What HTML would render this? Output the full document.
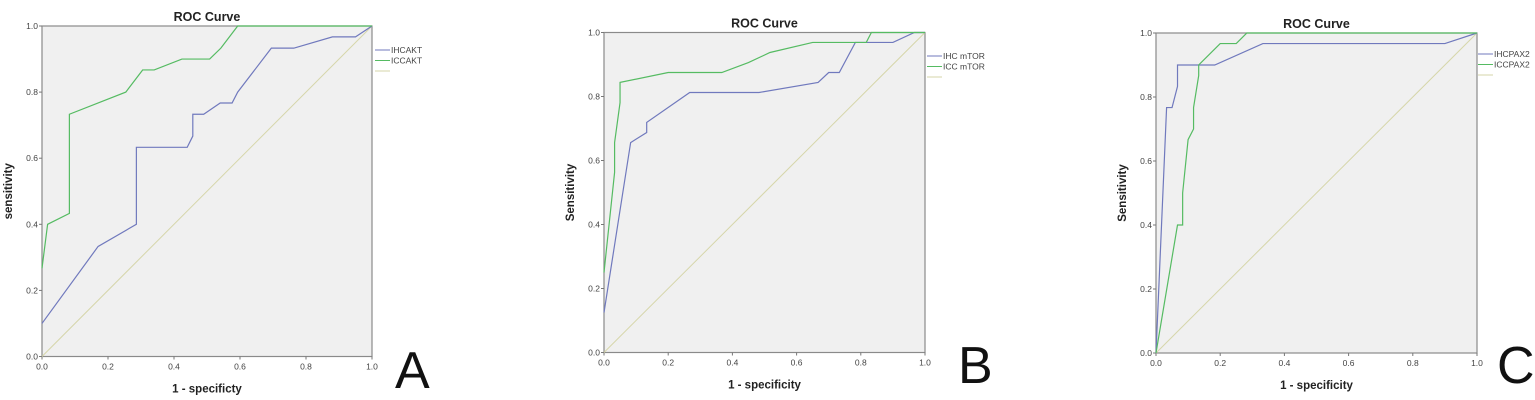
<!DOCTYPE html>
<html><head><meta charset="utf-8"><style>
body{margin:0;background:#fff;width:1535px;height:400px;overflow:hidden;font-family:"Liberation Sans",sans-serif}
svg{position:absolute;left:0;top:0}
</style></head><body>
<svg id="s" width="1535" height="400" xmlns="http://www.w3.org/2000/svg"></svg>
<script>
const ticks=[0,0.2,0.4,0.6,0.8,1.0];
const tickLabels=["0.0","0.2","0.4","0.6","0.8","1.0"];
const aBlueX=[0,0.17,0.286,0.286,0.44,0.457,0.457,0.49,0.54,0.576,0.593,0.695,0.763,0.88,0.95,1];
const aBlueY=[0.1,0.333,0.4,0.633,0.633,0.667,0.733,0.733,0.767,0.767,0.8,0.933,0.933,0.967,0.967,1];
const aGreenX=[0,0.017,0.083,0.083,0.254,0.305,0.34,0.424,0.508,0.542,0.593,1];
const aGreenY=[0.267,0.4,0.433,0.733,0.8,0.867,0.867,0.9,0.9,0.933,1,1];
const bBlueX=[0,0.083,0.133,0.133,0.267,0.483,0.667,0.7,0.733,0.783,0.9,0.967,1];
const bBlueY=[0.125,0.656,0.6875,0.719,0.8125,0.8125,0.844,0.875,0.875,0.969,0.969,1,1];
const bGreenX=[0,0.033,0.033,0.05,0.05,0.2,0.367,0.45,0.517,0.65,0.817,0.833,1];
const bGreenY=[0.25,0.563,0.656,0.781,0.844,0.875,0.875,0.906,0.9375,0.969,0.969,1,1];
const cBlueX=[0,0.033,0.05,0.067,0.067,0.183,0.333,0.9,1];
const cBlueY=[0,0.767,0.767,0.833,0.9,0.9,0.967,0.967,1];
const cGreenX=[0,0.067,0.083,0.083,0.1,0.117,0.117,0.133,0.133,0.2,0.25,0.283,1];
const cGreenY=[0,0.4,0.4,0.5,0.667,0.7,0.767,0.867,0.9,0.967,0.967,1,1];
const panels=[
 {id:"a",x0:42,x1:372,y0:356.5,y1:26,ylab:"sensitivity",xlab:"1 - specificty",leg:["IHCAKT","ICCAKT"],lx:375,ly:50,letter:"A",lt:[395,388],bx:aBlueX,by:aBlueY,gx:aGreenX,gy:aGreenY},
 {id:"b",x0:604,x1:925,y0:352.5,y1:32.5,ylab:"Sensitivity",xlab:"1 - specificity",leg:["IHC mTOR","ICC mTOR"],lx:927,ly:56,letter:"B",lt:[958,383],bx:bBlueX,by:bBlueY,gx:bGreenX,gy:bGreenY},
 {id:"c",x0:1156,x1:1477,y0:353,y1:33,ylab:"Sensitivity",xlab:"1 - specificity",leg:["IHCPAX2","ICCPAX2"],lx:1478,ly:54,letter:"C",lt:[1497,383],bx:cBlueX,by:cBlueY,gx:cGreenX,gy:cGreenY}];
const s=document.getElementById('s');const NS="http://www.w3.org/2000/svg";
function mk(t,a,txt){const e=document.createElementNS(NS,t);for(const k in a)e.setAttribute(k,a[k]);if(txt!==undefined)e.textContent=txt;s.appendChild(e);return e;}
panels.forEach(p=>{
 const X=v=>p.x0+v*(p.x1-p.x0),Y=v=>p.y0+v*(p.y1-p.y0);
 let e=mk('rect',{x:p.x0,y:p.y1,width:p.x1-p.x0,height:p.y0-p.y1,fill:'#f0f0f0',stroke:'#8a8a8a','stroke-width':1.2});
 
 
 e=mk('text',{x:(p.x0+p.x1)/2,y:p.y1-5,'text-anchor':'middle','font-size':12.5,'font-weight':'bold',fill:'#222'},'ROC Curve');
 
 
 ticks.forEach((t,i)=>{
  mk('line',{x1:X(t),x2:X(t),y1:p.y0,y2:p.y0+3,stroke:'#777'});
  mk('line',{x1:p.x0-3,x2:p.x0,y1:Y(t),y2:Y(t),stroke:'#777'});
  e=mk('text',{x:X(t),y:p.y0+13,'text-anchor':'middle','font-size':8.5,fill:'#444'},tickLabels[i]);
  
  
  e=mk('text',{x:p.x0-4,y:Y(t)+3,'text-anchor':'end','font-size':8.5,fill:'#444'},tickLabels[i]);
  
  
 });
 e=mk('text',{x:(p.x0+p.x1)/2,y:p.y0+36,'text-anchor':'middle','font-size':11.5,'font-weight':'bold',fill:'#222'},p.xlab);
 
 
 const yc=(p.y0+p.y1)/2,yx=p.x0-30;
 e=mk('text',{x:yx,y:yc,'text-anchor':'middle','font-size':11.5,'font-weight':'bold',fill:'#222',transform:`rotate(-90 ${yx} ${yc})`},p.ylab);
 
 
 e=mk('line',{x1:X(0),y1:Y(0),x2:X(1),y2:Y(1),stroke:'#d6d6aa','stroke-width':1});
 
 
 e=mk('polyline',{points:p.bx.map((v,i)=>X(v)+','+Y(p.by[i])).join(' '),fill:'none',stroke:'#7079bd','stroke-width':1.2});
 
 
 e=mk('polyline',{points:p.gx.map((v,i)=>X(v)+','+Y(p.gy[i])).join(' '),fill:'none',stroke:'#55bb62','stroke-width':1.2});
 
 
 const cols=['#7079bd','#55bb62','#d6d6aa'];
 for(let i=0;i<3;i++){
  const ly=p.ly+i*10.5;
  e=mk('line',{x1:p.lx,x2:p.lx+15,y1:ly,y2:ly,stroke:cols[i],'stroke-width':1});
  
  
  if(i<2){e=mk('text',{x:p.lx+16,y:ly+3,'font-size':8.5,fill:'#444'},p.leg[i]);
  
  }
 }
 e=mk('text',{x:p.lt[0],y:p.lt[1],'font-size':52,fill:'#111'},p.letter);
 
 
});
</script>
</body></html>
